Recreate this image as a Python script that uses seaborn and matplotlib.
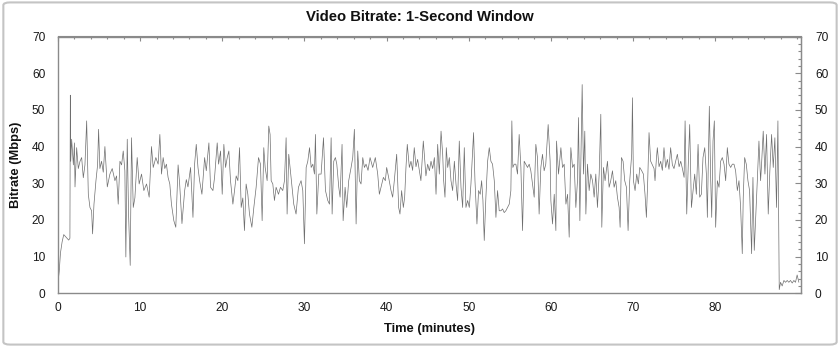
import numpy as np
import pandas as pd
import matplotlib
matplotlib.use("Agg")
import matplotlib.pyplot as plt
from matplotlib.patches import FancyBboxPatch
from matplotlib.ticker import MultipleLocator
import seaborn as sns

# ---- data (time in minutes, bitrate in Mbps) ----
time_min = [
    0.0, 0.15, 0.3, 0.5, 0.7, 0.9, 1.1, 1.3, 1.45, 1.5, 1.55, 1.66, 1.87, 2.0, 2.07,
    2.27, 2.47, 2.68, 2.88, 3.08, 3.28, 3.49, 3.69, 3.89, 4.09, 4.21, 4.38, 4.62, 4.82,
    4.94, 5.1, 5.3, 5.51, 5.71, 6.0, 6.32, 6.6, 6.93, 7.13, 7.33, 7.54, 7.74, 7.94, 8.14,
    8.26, 8.43, 8.59, 8.79, 8.95, 9.16, 9.36, 9.64, 9.88, 10.17, 10.45, 10.78, 11.1, 11.38,
    11.59, 11.91, 12.19, 12.4, 12.6, 12.8, 13.0, 13.2, 13.4, 13.61, 13.81, 14.1, 14.34,
    14.62, 14.81, 15.09, 15.42, 15.62, 15.82, 16.14, 16.43, 16.63, 16.83, 17.04, 17.24,
    17.52, 17.85, 18.05, 18.37, 18.57, 18.86, 19.06, 19.38, 19.55, 19.79, 19.99, 20.19,
    20.4, 20.6, 20.8, 21.0, 21.29, 21.49, 21.69, 21.9, 22.1, 22.3, 22.5, 22.7, 22.9,
    23.11, 23.31, 23.6, 23.84, 24.12, 24.41, 24.65, 24.85, 25.05, 25.22, 25.46, 25.66,
    25.82, 25.95, 26.15, 26.35, 26.55, 26.84, 27.08, 27.36, 27.57, 27.77, 27.89, 28.09,
    28.25, 28.46, 28.7, 28.98, 29.27, 29.59, 29.8, 30.0, 30.21, 30.41, 30.62, 30.82,
    31.02, 31.22, 31.34, 31.51, 31.75, 32.03, 32.32, 32.56, 32.84, 33.05, 33.25, 33.37,
    33.57, 33.77, 33.94, 34.18, 34.34, 34.58, 34.71, 34.95, 35.15, 35.39, 35.68, 35.88,
    36.08, 36.29, 36.49, 36.69, 36.89, 37.1, 37.3, 37.5, 37.74, 37.99, 38.31, 38.63,
    38.92, 39.12, 39.32, 39.61, 39.85, 40.01, 40.25, 40.54, 40.74, 40.94, 41.23, 41.47,
    41.63, 41.83, 42.04, 42.2, 42.36, 42.52, 42.77, 42.97, 43.17, 43.37, 43.58, 43.78,
    43.98, 44.18, 44.47, 44.79, 45.0, 45.21, 45.41, 45.61, 45.82, 46.02, 46.22, 46.42,
    46.63, 46.83, 46.95, 47.11, 47.27, 47.44, 47.64, 47.84, 48.04, 48.25, 48.45, 48.65,
    48.85, 49.06, 49.26, 49.46, 49.66, 49.87, 50.07, 50.27, 50.59, 50.76, 51.0, 51.2,
    51.4, 51.57, 51.73, 51.89, 52.09, 52.3, 52.5, 52.7, 52.9, 53.11, 53.31, 53.51, 53.71,
    53.92, 54.12, 54.32, 54.52, 54.73, 54.93, 55.13, 55.25, 55.37, 55.54, 55.74, 55.94,
    56.14, 56.35, 56.55, 56.75, 56.95, 57.16, 57.36, 57.56, 57.76, 57.97, 58.17, 58.37,
    58.57, 58.78, 58.98, 59.18, 59.38, 59.67, 59.91, 60.0, 60.2, 60.41, 60.61, 60.69,
    60.93, 61.22, 61.42, 61.62, 61.83, 62.03, 62.23, 62.43, 62.64, 62.84, 63.04, 63.24,
    63.36, 63.53, 63.69, 63.81, 63.97, 64.13, 64.26, 64.46, 64.66, 64.86, 65.07, 65.27,
    65.47, 65.67, 65.88, 66.08, 66.2, 66.4, 66.6, 66.89, 67.09, 67.29, 67.5, 67.7, 67.9,
    68.1, 68.31, 68.43, 68.59, 68.79, 68.99, 69.2, 69.4, 69.6, 69.84, 69.93, 70.05,
    70.25, 70.45, 70.65, 70.82, 71.06, 71.26, 71.46, 71.63, 71.79, 71.95, 72.15, 72.36,
    72.56, 72.68, 72.84, 72.96, 73.17, 73.37, 73.57, 73.77, 73.98, 74.18, 74.38, 74.58,
    74.79, 74.99, 75.19, 75.4, 75.61, 75.81, 76.01, 76.22, 76.34, 76.54, 76.74, 76.9,
    77.11, 77.31, 77.51, 77.71, 77.92, 78.12, 78.32, 78.52, 78.73, 78.93, 79.05, 79.17,
    79.29, 79.46, 79.58, 79.74, 79.9, 80.06, 80.27, 80.47, 80.67, 80.87, 81.08, 81.28,
    81.48, 81.68, 81.89, 82.09, 82.29, 82.49, 82.7, 82.9, 83.1, 83.3, 83.42, 83.59,
    83.79, 83.99, 84.19, 84.44, 84.6, 84.76, 84.92, 85.13, 85.33, 85.53, 85.65, 85.85,
    86.06, 86.26, 86.46, 86.66, 86.87, 87.07, 87.27, 87.47, 87.64, 87.8, 87.96, 88.16,
    88.37, 88.57, 88.77, 88.97, 89.17, 89.38, 89.58, 89.78, 89.98, 90.19,
]
bitrate_mbps = [
    3, 6, 11, 14, 16, 15.5, 15, 14.5, 15, 54, 36, 42, 35, 41, 29,
    39.7, 34, 36, 37, 31.5, 35, 47, 27, 23.4, 22.5, 16.2, 24.3, 30.7, 35,
    44.7, 34, 36, 33, 40, 29, 32.5, 34, 30.7, 32, 24.3, 36, 35, 38.8, 33.4,
    9.9, 42, 21.6, 7.6, 42.4, 23.4, 26, 37, 29.8, 32.5, 28, 29.8, 26.2, 40,
    34.3, 37, 35.2, 43.3, 32.5, 37, 34, 35.2, 31.6, 29.8, 24.3, 19.8, 18,
    35, 29.8, 19, 28, 31, 29, 34.3, 20.7, 35.2, 40.6, 34.3, 30.7,
    27, 37, 33.4, 41, 28.9, 28, 31.6, 41, 35.2, 38.8, 27, 40.6,
    34.3, 37, 38.8, 30.7, 24.3, 28, 32, 30.7, 39.7, 23.4, 26, 17.1, 29.8,
    27, 21.6, 18, 23.4, 28.9, 37, 35.2, 19.8, 39.7, 34.3, 30.7, 45.6,
    43.3, 30.7, 29.8, 25.3, 28.9, 27, 28.9, 28, 30.7, 42.4, 21.6, 37.9,
    34.3, 29.8, 24.3, 21.6, 28.9, 30.7, 28, 13.5, 34.3, 36, 39.7, 34.3,
    35.2, 32.5, 43.3, 21.6, 32.5, 32.5, 42.4, 28, 25.3, 24.3, 42.4, 21.6,
    36, 37, 35.2, 28.9, 26.2, 40.6, 19.8, 28.9, 23.4, 30.7, 34.3, 37,
    44.7, 18.9, 38.8, 30.7, 29.8, 37, 34.3, 35.2, 33.5, 37, 34.3, 37,
    32.5, 27, 28.9, 31.6, 30.7, 34.3, 31.6, 28, 26.2, 30.7, 37.9, 23.4,
    21.6, 28, 23.4, 26.2, 34.3, 40.6, 34.3, 36, 33.5, 39.7, 34.5, 36.5,
    33.5, 30.7, 41.5, 32, 35.2, 33.4, 36, 34, 37, 27, 40.6, 32.5,
    44.2, 37.9, 30.7, 26.2, 39.7, 34.3, 37, 30.7, 28, 36, 29.8, 25.3,
    41.5, 28.9, 23.4, 39.7, 23.4, 25.3, 23.4, 29.8, 43.8, 30.7, 18.9, 28,
    27, 30.7, 25.3, 14.4, 26.2, 36, 39.7, 36, 35.2, 30.7, 20.7, 28, 22.5,
    22.5, 23, 22, 22.5, 23.4, 24.3, 28, 47, 34.3, 35.2, 35.2, 32.5,
    43.3, 34.3, 17.1, 36, 35.2, 34.3, 35.2, 33.4, 30, 26.2, 40.6, 37,
    21.6, 34.3, 37.9, 33.4, 35.2, 46, 36, 25.3, 18.9, 27, 17.1, 41.5,
    32.5, 39.7, 34.3, 35.2, 24.3, 27, 15.3, 39.7, 34.3, 35.2, 23.4, 30.7,
    47.9, 19.8, 41.5, 56.9, 32.5, 44.2, 21.6, 35.2, 28, 32.5, 30.7, 26.2,
    32.5, 23.4, 32.5, 48.8, 18, 34.3, 30.7, 36, 28.9, 30.7, 33.4, 28.9, 30.7,
    26.2, 23.4, 18, 37, 36, 30.7, 28.9, 17.1, 30.7, 37.9, 53.3, 30.7,
    28, 32.5, 29.8, 34.3, 33.4, 32.5, 27, 20.7, 30.7, 43.8, 36, 35,
    34, 30.7, 36.5, 39.7, 34.5, 36, 33.5, 39.7, 34.3, 36.5, 33.8, 39.7,
    35, 34, 36, 37.9, 34.5, 36, 34, 31.6, 47, 21.6, 36, 46,
    23.4, 28, 32.5, 27, 40.6, 26.2, 27, 37, 39.7, 32.5, 20.7, 35.2,
    51, 30.7, 20.7, 41.5, 47, 18, 30.7, 28.9, 36, 37, 35.2, 30.7,
    39.7, 35.2, 34.3, 35.2, 35.2, 33.4, 28, 30.7, 23.4, 10.8, 26.2, 37,
    35.2, 30.7, 28, 10.8, 31.6, 11.7, 19.8, 30.7, 41.5, 30.7, 35.2, 44.2,
    32.5, 43.3, 21.6, 33.4, 43.3, 34.3, 42.4, 23.4, 47, 1, 3, 2,
    3.5, 3, 3.5, 3, 3.5, 2.8, 3.5, 3, 5, 3,
]
y_ticks = [0, 10, 20, 30, 40, 50, 60, 70]
x_ticks = [0, 10, 20, 30, 40, 50, 60, 70, 80]

TITLE = "Video Bitrate: 1-Second Window"
XLABEL = "Time (minutes)"
YLABEL = "Bitrate (Mbps)"

df = pd.DataFrame({"time": time_min, "bitrate": bitrate_mbps})

sns.set_style("white")
plt.rcParams["font.family"] = ["Liberation Sans", "DejaVu Sans"]

W, H = 840, 347
fig = plt.figure(figsize=(W / 100, H / 100), dpi=100)
fig.patch.set_facecolor("white")

# outer rounded border
border = FancyBboxPatch((0.004, 0.007), 0.992, 0.986, boxstyle="round,pad=0,rounding_size=0.008",
                        transform=fig.transFigure, facecolor="none", edgecolor="#c4c4c4",
                        linewidth=1.5, zorder=0)
fig.patches.append(border)

ax_l, ax_r, ax_t, ax_b = 58, 801, 36.5, 293.3
ax = fig.add_axes([ax_l / W, 1 - ax_b / H, (ax_r - ax_l) / W, (ax_b - ax_t) / H])

sns.lineplot(data=df, x="time", y="bitrate", ax=ax, color="#6e6e6e", linewidth=0.5,
             estimator=None, sort=False)

ax.set_xlim(0, 90.45)
ax.set_ylim(0, 70)
ax.set_xticks(x_ticks)
ax.set_yticks(y_ticks)
ax.xaxis.set_minor_locator(MultipleLocator(2))
ax.yaxis.set_minor_locator(MultipleLocator(2))
ax.set_xlabel("")
ax.set_ylabel("")

axis_col = "#8a8a8a"
for s in ax.spines.values():
    s.set_color(axis_col)
    s.set_linewidth(1.0)

ax.tick_params(axis="both", which="major", direction="inout", length=6.5, width=0.8,
               color=axis_col, labelsize=8.6, labelcolor="#1a1a1a")
ax.tick_params(axis="both", which="minor", direction="inout", length=3.5, width=0.8,
               color=axis_col)
ax.tick_params(axis="x", which="major", pad=3)
ax.tick_params(axis="y", which="major", pad=6)

# top axis: inward ticks only
sec_top = ax.secondary_xaxis("top")
sec_top.set_xticks(x_ticks)
sec_top.xaxis.set_minor_locator(MultipleLocator(2))
sec_top.tick_params(axis="x", which="major", direction="in", length=3.5, width=0.8,
                    color=axis_col, labeltop=False)
sec_top.tick_params(axis="x", which="minor", direction="in", length=2.5, width=0.8,
                    color=axis_col)
sec_top.spines["top"].set_color(axis_col)

# right axis: inward ticks, with labels
sec_right = ax.secondary_yaxis("right")
sec_right.set_yticks(y_ticks)
sec_right.yaxis.set_minor_locator(MultipleLocator(2))
sec_right.tick_params(axis="y", which="major", direction="in", length=4, width=0.8,
                      color=axis_col, labelsize=8.6, labelcolor="#1a1a1a", pad=10)
sec_right.tick_params(axis="y", which="minor", direction="in", length=2.5, width=0.8,
                      color=axis_col)
sec_right.spines["right"].set_color(axis_col)

fig.text(0.5, 1 - 17 / H, TITLE, ha="center", va="center", fontsize=10.7,
         fontweight="bold", color="#111111")
fig.text((ax_l + ax_r) / 2 / W, 1 - 329 / H, XLABEL, ha="center", va="center",
         fontsize=9.3, fontweight="bold", color="#111111")
fig.text(16 / W, 1 - ((ax_t + ax_b) / 2) / H, YLABEL, ha="center", va="center",
         rotation=90, fontsize=9.3, fontweight="bold", color="#111111")

fig.savefig("out.png", dpi=100, facecolor="white")
